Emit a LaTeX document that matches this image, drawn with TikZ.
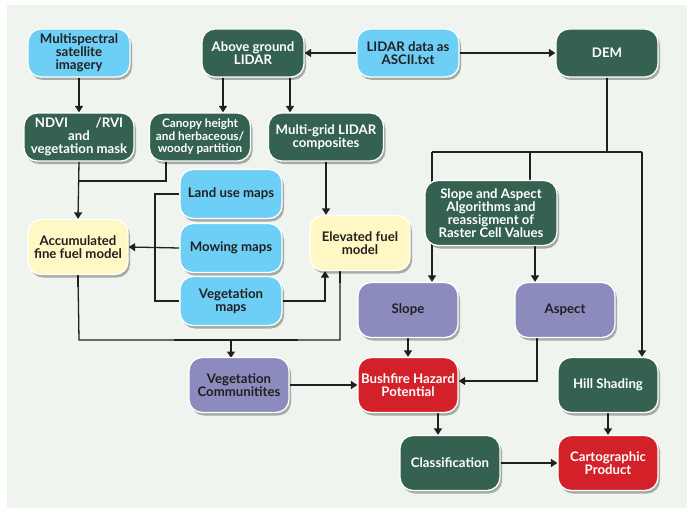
\documentclass[tikz,border=0pt]{standalone}
\usepackage{fontspec}
\setmainfont{Lato}
\usetikzlibrary{arrows.meta,shadows,calc}
\pgfdeclarelayer{back}
\pgfdeclarelayer{bg}
\pgfsetlayers{back,bg,main}
\definecolor{panel}{HTML}{EFF5EE}
\definecolor{lblue}{HTML}{6DCFF6}
\definecolor{dgreen}{HTML}{356150}
\definecolor{lyellow}{HTML}{FFF8C4}
\definecolor{lpurple}{HTML}{8B8BBE}
\definecolor{bred}{HTML}{D42129}
\definecolor{ink}{HTML}{231F20}
\tikzset{
  box/.style={draw=white, line width=1.3pt, rounded corners=13pt, align=center,
    inner sep=1pt, font=\bfseries\fontsize{13.2}{12.8}\selectfont,
    drop shadow={shadow xshift=2pt, shadow yshift=-3pt, opacity=0.3, fill=black}},
  bluebox/.style={box, fill=lblue, text=ink, minimum width=102pt, minimum height=48pt},
  greenbox/.style={box, fill=dgreen, text=white, minimum width=102pt, minimum height=48pt},
  yellowbox/.style={box, fill=lyellow, text=ink, minimum width=100pt, minimum height=55pt},
  purplebox/.style={box, fill=lpurple, text=ink, minimum width=100pt, minimum height=55pt},
  redbox/.style={box, fill=bred, text=white, minimum width=100pt, minimum height=55pt},
  conn/.style={draw=ink, line width=1.3pt},
  arr/.style={conn, -{Triangle[length=6.5pt,width=8pt]}},
}
\begin{document}
\begin{tikzpicture}[x=1pt,y=-1pt]
\useasboundingbox (0,0) rectangle (687,508);
\begin{pgfonlayer}{back}
\fill[white] (0,0) rectangle (687,508);
\fill[panel] (7,5) rectangle (687,508);
\end{pgfonlayer}
% row 1
\node[bluebox] (ms) at (79,53) {Multispectral\\satellite\\imagery};
\node[greenbox] (agl) at (253,53) {Above ground\\LIDAR};
\node[bluebox] (ascii) at (408,53) {LIDAR data as\\ASCII.txt};
\node[greenbox] (dem) at (607,53) {DEM};
% row 2
\node[greenbox, minimum width=110pt] (ndvi) at (79,137) {NDVI\hspace{2.1em}/RVI\\and\\vegetation mask};
\node[greenbox, minimum width=101pt, font=\bfseries\fontsize{11.8}{12.6}\selectfont] (can) at (200,137) {Canopy height\\and herbaceous/\\woody partition};
\node[greenbox, minimum width=115pt] (mg) at (326,137) {Multi-grid LIDAR\\composites};
% middle
\node[bluebox, minimum height=49pt] (land) at (231,194) {Land use maps};
\node[bluebox, minimum height=49pt] (mow) at (231,248) {Mowing maps};
\node[bluebox, minimum height=49pt] (veg) at (231,301) {Vegetation\\maps};
\node[yellowbox] (acc) at (78,247) {Accumulated\\fine fuel model};
\node[yellowbox] (elev) at (360,243) {Elevated fuel\\model};
\node[greenbox, minimum width=132pt, minimum height=65pt] (sa) at (491,213) {Slope and Aspect\\Algorithms and\\reassigment of\\Raster Cell Values};
\node[purplebox] (slope) at (408,310) {Slope};
\node[purplebox] (asp) at (565,310) {Aspect};
\node[purplebox] (vc) at (239,385) {Vegetation\\Communitites};
\node[redbox] (bush) at (408,385) {Bushfire Hazard\\Potential};
\node[greenbox, minimum width=100pt, minimum height=55pt] (hill) at (608,385) {Hill Shading};
\node[greenbox, minimum width=100pt, minimum height=55pt] (cls) at (450,463) {Classification};
\node[redbox] (cart) at (608,463) {Cartographic\\Product};
% connectors
\begin{pgfonlayer}{bg}
\draw[arr] (ms.south) -- (ndvi.north);
\draw[arr] ([xshift=-30pt]agl.south) -- ([xshift=-30pt]agl.south |- can.north);
\draw[arr] ([xshift=37pt]agl.south) -- ([xshift=37pt]agl.south |- mg.north);
\draw[arr] (ascii.west) -- (agl.east);
\draw[arr] (ascii.east) -- (dem.west);
% DEM bus
\coordinate (b1) at (432,152);
\coordinate (b2) at (642,152);
\coordinate (b3) at (530,152);
\draw[conn] (dem.south) -- (dem.south |- b1);
\draw[conn] (b1) -- (b2);
\draw[conn] (b3) -- (b3 |- sa.north);
\draw[arr] (b1) -- (b1 |- slope.north);
\draw[arr] (b2) -- (b2 |- hill.north);
\draw[arr] ([xshift=44pt]sa.south) -- ([xshift=44pt]sa.south |- asp.north);
% fine fuel inputs
\coordinate (j1) at (79,181);
\draw[arr] (ndvi.south) -- (acc.north);
\draw[conn] ([xshift=-34pt]can.south) |- (j1);
\coordinate (v1) at (155,194);
\draw[conn] (land.west) -- (v1) |- (veg.west);
\draw[arr] (mow.west) -- (acc.east);
\draw[arr] (veg.east) -| ([xshift=-35pt]elev.south);
\draw[arr] (mg.south) -- (mg.south |- elev.north);
% vegetation communities bus
\coordinate (k1) at (79,340);
\coordinate (k2) at (340,340);
\draw[conn] (acc.south) -- (k1) -- (k2) -- (k2 |- elev.south);
\draw[draw=ink, line width=2pt] (174,340) -- (298,340);
\draw[draw=ink, line width=2pt] (acc.south) -- ++(0,12);
\draw[draw=ink, line width=2pt] ([xshift=-20pt]elev.south) -- ++(0,12);
\draw[arr] (231,340) -- (231,358);
% hazard
\draw[arr] (vc.east) -- (bush.west);
\draw[arr] (slope.south) -- (bush.north);
\draw[arr] ([xshift=-28pt]asp.south) |- ([yshift=4pt]bush.east);
\draw[arr] ([xshift=30pt]bush.south) -- ([xshift=30pt]bush.south |- cls.north);
\draw[arr] (hill.south) -- (cart.north);
\draw[arr] (cls.east) -- (cart.west);
\end{pgfonlayer}
\end{tikzpicture}
\end{document}
